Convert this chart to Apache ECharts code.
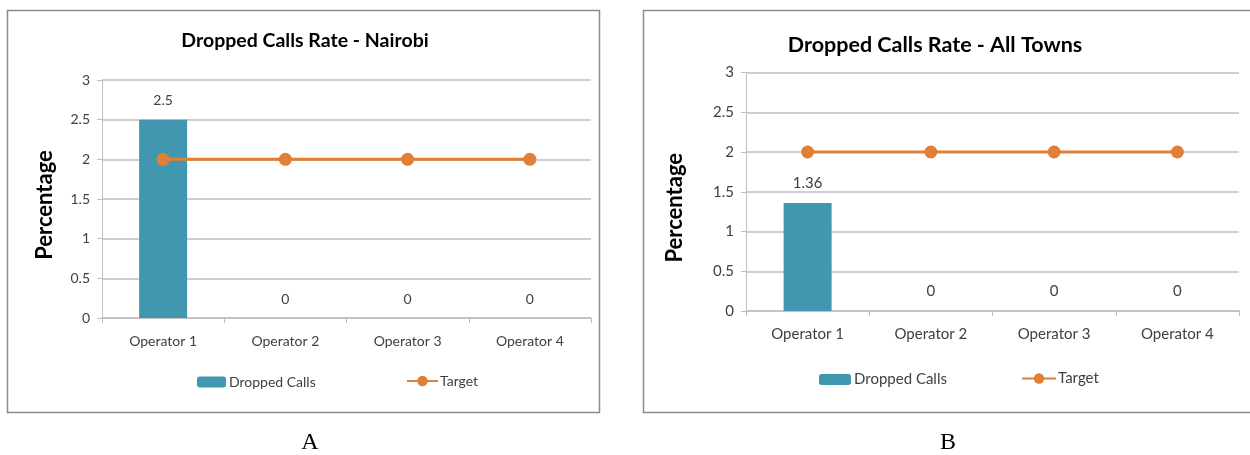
<!DOCTYPE html>
<html>
<head>
<meta charset="utf-8">
<script src="https://cdn.jsdelivr.net/npm/echarts@6/dist/echarts.min.js"></script>
<style>
  html, body { margin: 0; padding: 0; background: #fff; }
  #main { width: 1250px; height: 455px; }
</style>
</head>
<body>
<div id="main"></div>
<script>
// 数据
const categories = ['Operator 1', 'Operator 2', 'Operator 3', 'Operator 4']
const droppedNairobi = [2.5, 0, 0, 0]
const targetNairobi = [2, 2, 2, 2]
const droppedAllTowns = [1.36, 0, 0, 0]
const targetAllTowns = [2, 2, 2, 2]
const yMin = 0
const yMax = 3
const yStep = 0.5

const FONT = 'Lato, "Open Sans", sans-serif'
const BAR_COLOR = '#4297B0'
const LINE_COLOR = '#E07F35'
const GRID_COLOR = '#BFBFBF'
const TEXT_COLOR = '#404040'

const chart = echarts.init(document.getElementById('main'))

// 两个面板的位置
const panels = [
  {
    title: 'Dropped Calls Rate - Nairobi',
    titleX: 305, titleY: 31, titleSize: 19.5,
    grid: { left: 102, top: 80, width: 489, height: 238 },
    nameGap: 46, nameSize: 22, namePad: 12, font: 14,
    bars: droppedNairobi, target: targetNairobi,
    legendY: 375, legendBarX: 197, legendLineX: 406, iconW: 29
  },
  {
    title: 'Dropped Calls Rate - All Towns',
    titleX: 935, titleY: 34, titleSize: 21.5,
    grid: { left: 746, top: 72.5, width: 493, height: 238.5 },
    nameGap: 60, nameSize: 22, namePad: 32, font: 15,
    bars: droppedAllTowns, target: targetAllTowns,
    legendY: 372, legendBarX: 819, legendLineX: 1021, iconW: 32
  }
]

const option = {
  animation: false,
  textStyle: { fontFamily: FONT },
  title: [],
  grid: [],
  xAxis: [],
  yAxis: [],
  legend: [],
  series: [],
  graphic: [
    // 外框
    { type: 'rect', shape: { x: 7.5, y: 10.5, width: 592, height: 402 }, style: { fill: 'none', stroke: '#8C8C8C', lineWidth: 1.5 } },
    { type: 'rect', shape: { x: 643.5, y: 10.5, width: 640, height: 402 }, style: { fill: 'none', stroke: '#8C8C8C', lineWidth: 1.5 } },
    { type: 'text', style: { x: 310, y: 443, text: 'A', font: '24px "Liberation Serif", serif', fill: '#000', align: 'center', verticalAlign: 'middle' } },
    { type: 'text', style: { x: 948, y: 443, text: 'B', font: '24px "Liberation Serif", serif', fill: '#000', align: 'center', verticalAlign: 'middle' } }
  ]
}

panels.forEach((p, i) => {
  option.title.push({
    text: p.title,
    left: p.titleX,
    top: p.titleY,
    textAlign: 'center',
    padding: 0,
    textStyle: { fontFamily: FONT, fontSize: p.titleSize, fontWeight: 'bold', color: '#000' }
  })
  option.grid.push(p.grid)
  option.xAxis.push({
    type: 'category',
    gridIndex: i,
    data: categories,
    axisLine: { lineStyle: { color: GRID_COLOR, width: 1.5 } },
    axisTick: { show: true, length: 5, lineStyle: { color: GRID_COLOR } },
    axisLabel: { color: TEXT_COLOR, fontSize: p.font, margin: 16 }
  })
  option.yAxis.push({
    type: 'value',
    gridIndex: i,
    min: yMin,
    max: yMax,
    interval: yStep,
    name: 'Percentage',
    nameLocation: 'middle',
    nameRotate: 90,
    nameGap: p.nameGap,
    // 右边 padding 把文字往下推
    nameTextStyle: { fontFamily: FONT, fontSize: p.nameSize, fontWeight: 'bold', color: '#000', padding: [0, p.namePad, 0, 0] },
    axisLine: { show: true, lineStyle: { color: GRID_COLOR } },
    axisTick: { show: true, length: 5, lineStyle: { color: GRID_COLOR } },
    axisLabel: { color: TEXT_COLOR, fontSize: p.font, margin: 12 },
    splitLine: { lineStyle: { color: GRID_COLOR, width: 1.5 } }
  })
  // 图例, 每项单独放
  option.legend.push({
    data: ['Dropped Calls'],
    left: p.legendBarX,
    top: p.legendY,
    padding: 0,
    itemWidth: p.iconW,
    itemHeight: 11,
    itemGap: 0,
    selectedMode: false,
    textStyle: { fontFamily: FONT, fontSize: p.font, color: TEXT_COLOR, padding: [0, 0, 0, -2] }
  })
  option.legend.push({
    data: ['Target'],
    left: p.legendLineX,
    top: p.legendY - 1,
    padding: 0,
    itemWidth: p.iconW + 2,
    itemHeight: 13,
    itemGap: 0,
    selectedMode: false,
    textStyle: { fontFamily: FONT, fontSize: p.font, color: TEXT_COLOR, padding: [0, 0, 0, -3] }
  })
  option.series.push({
    name: 'Dropped Calls',
    type: 'bar',
    xAxisIndex: i,
    yAxisIndex: i,
    data: p.bars,
    barWidth: 48,
    itemStyle: { color: BAR_COLOR },
    label: {
      show: true,
      position: 'top',
      distance: 12,
      fontSize: p.font,
      color: TEXT_COLOR
    }
  })
  option.series.push({
    name: 'Target',
    type: 'line',
    xAxisIndex: i,
    yAxisIndex: i,
    data: p.target,
    symbol: 'circle',
    symbolSize: 13,
    itemStyle: { color: LINE_COLOR },
    lineStyle: { color: LINE_COLOR, width: 3 }
  })
})

chart.setOption(option)
</script>
</body>
</html>
